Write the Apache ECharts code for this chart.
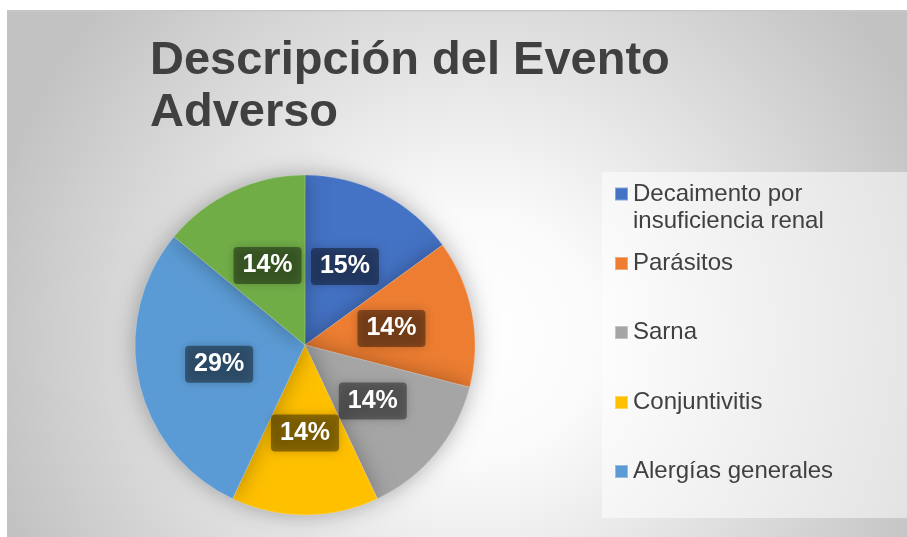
<!DOCTYPE html>
<html>
<head>
<meta charset="utf-8">
<script src="https://cdn.jsdelivr.net/npm/echarts@6/dist/echarts.min.js"></script>
<style>
html,body{margin:0;padding:0;background:#fff;}
#c{width:907px;height:537px;}
</style>
</head>
<body>
<div id="c"></div>
<script>
const titleText = 'Descripción del Evento\nAdverso';
const categories = ['Decaimento por\ninsuficiencia renal', 'Parásitos', 'Sarna', 'Conjuntivitis', 'Alergías generales', 'Otros'];
const values = [15, 14, 14, 14, 29, 14];
const colors = ['#4472C4', '#ED7D31', '#A5A5A5', '#FFC000', '#5B9BD5', '#70AD47'];
const legendNames = categories.slice(0, 5);
const legendTops = [153.5, 250, 319, 389, 458];

const chart = echarts.init(document.getElementById('c'), null, {renderer: 'canvas'});
const FONT = '"Liberation Sans", Arial, sans-serif';

const legends = legendNames.map((n, i) => ({
  data: [n],
  orient: 'vertical',
  left: 614,
  top: legendTops[i],
  padding: 0,
  itemWidth: 13,
  itemHeight: 13,
  itemGap: 0,
  icon: 'rect',
  selectedMode: false,
  formatter: name => (i === 0 ? '\n' + name : name),
  textStyle: {
    fontFamily: FONT, fontSize: 24, color: '#404040', lineHeight: 27
  }
}));

chart.setOption({
  animation: false,
  color: colors,
  graphic: [
    {
      type: 'rect', z: -100, silent: true,
      shape: {x: 7, y: 10, width: 900, height: 527},
      style: {
        fill: {
          type: 'radial', x: 0.52, y: 0.62, r: 0.95,
          colorStops: [
            {offset: 0, color: '#ffffff'},
            {offset: 0.25, color: '#fafafa'},
            {offset: 1, color: '#c2c2c2'}
          ]
        }
      }
    },
    {
      type: 'rect', z: -99, silent: true,
      shape: {x: 7, y: 10, width: 900, height: 1.5},
      style: {fill: '#c8c8c8'}
    },
    {
      type: 'rect', z: -98, silent: true,
      shape: {x: 602, y: 172, width: 305, height: 346},
      style: {fill: 'rgba(255,255,255,0.5)'}
    }
  ],
  title: {
    text: titleText,
    left: 150,
    top: 35.5,
    padding: 0,
    textStyle: {
      fontFamily: FONT, fontSize: 47, fontWeight: 'bold', color: '#404040', lineHeight: 52
    }
  },
  legend: legends,
  series: [{
    type: 'pie',
    center: [305, 345],
    radius: [0, 170],
    startAngle: 90,
    clockwise: true,
    avoidLabelOverlap: false,
    labelLayout: {hideOverlap: false},
    itemStyle: {
      borderColor: 'rgba(255,255,255,0.35)',
      borderWidth: 0.6,
      shadowBlur: 22,
      shadowColor: 'rgba(0,0,0,0.3)'
    },
    label: {
      show: true,
      position: 'inside',
      formatter: p => p.value + '%',
      fontFamily: FONT,
      fontSize: 25,
      fontWeight: 'bold',
      color: '#ffffff',
      backgroundColor: 'rgba(0,0,0,0.4)',
      padding: [6, 9],
      borderRadius: 4,
      shadowBlur: 10,
      shadowColor: 'rgba(0,0,0,0.5)'
    },
    labelLine: {show: false},
    emphasis: {disabled: true},
    data: categories.map((c, i) => ({name: c, value: values[i]}))
  }]
});
</script>
</body>
</html>
